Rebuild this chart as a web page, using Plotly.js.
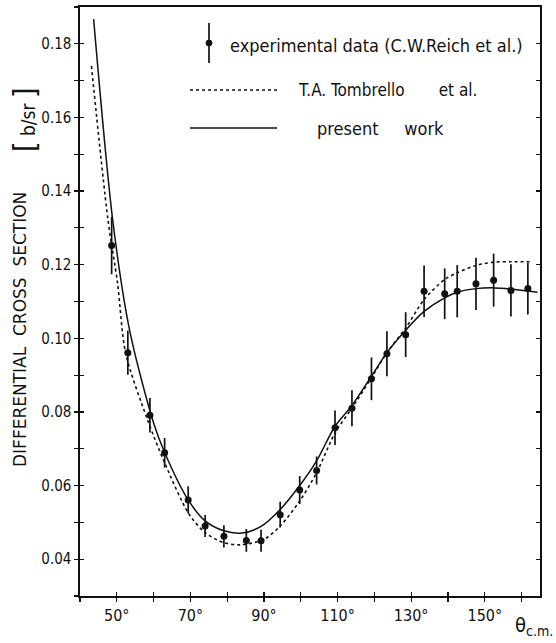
<!DOCTYPE html>
<html>
<head>
<meta charset="utf-8">
<script src="https://cdn.plot.ly/plotly-3.0.1.min.js"></script>
<style>html,body{margin:0;padding:0;background:#fff}#chart{width:556px;height:643px}</style>
</head>
<body>
<div id="chart"></div>
<script>
// Experimental data (C.W. Reich et al.)
const thetaExp = [48.6, 53.0, 59.0, 63.0, 69.4, 74.0, 79.1, 85.2, 89.2, 94.4, 99.7, 104.3, 109.3, 113.9, 119.2, 123.4, 128.5, 133.5, 139.1, 142.5, 147.6, 152.4, 157.1, 161.7];
const sigmaExp = [0.1252, 0.0961, 0.0791, 0.0689, 0.0561, 0.0490, 0.0462, 0.0451, 0.0450, 0.0521, 0.0588, 0.0641, 0.0757, 0.0810, 0.0890, 0.0958, 0.1010, 0.1128, 0.1121, 0.1128, 0.1148, 0.1158, 0.1130, 0.1135];
const errExp   = [0.0078, 0.0060, 0.0047, 0.0040, 0.0037, 0.0030, 0.0030, 0.0031, 0.0030, 0.0035, 0.0038, 0.0038, 0.0047, 0.0049, 0.0058, 0.0061, 0.0061, 0.0070, 0.0069, 0.0071, 0.0071, 0.0072, 0.0071, 0.0070];

// T.A. Tombrello et al. (dotted)
const thetaTomb = [43.1, 47.6, 50.2, 52.4, 58.3, 63.0, 69.4, 74.0, 79.1, 83.7, 90.0, 94.4, 99.7, 104.3, 109.3, 113.8, 119.2, 123.4, 128.5, 133.5, 139.1, 142.5, 147.6, 152.4, 157.1, 163.0];
const sigmaTomb = [0.174, 0.1322, 0.115, 0.096, 0.078, 0.0662, 0.0526, 0.0472, 0.0445, 0.0439, 0.0454, 0.0490, 0.0558, 0.0635, 0.0743, 0.0809, 0.0893, 0.0961, 0.1028, 0.1105, 0.1160, 0.1178, 0.1198, 0.1207, 0.1208, 0.1208];

// present work (solid)
const thetaPres = [43.7, 48.9, 53.6, 60.0, 63.0, 69.4, 74.0, 79.1, 84.0, 89.2, 94.4, 99.7, 104.3, 109.3, 113.8, 119.2, 123.4, 128.5, 133.5, 139.1, 142.5, 147.6, 152.4, 157.1, 164.3];
const sigmaPres = [0.1867, 0.132, 0.1016, 0.077, 0.069, 0.0561, 0.0504, 0.0477, 0.0471, 0.0489, 0.0535, 0.0600, 0.0667, 0.0761, 0.0816, 0.0897, 0.0961, 0.1022, 0.1073, 0.1110, 0.1125, 0.1135, 0.1137, 0.1134, 0.1125];

const xTickVals = [50, 70, 90, 110, 130, 150];
const xTickText = ['50°', '70°', '90°', '110°', '130°', '150°'];
const FONT = '"DejaVu Sans Condensed", "DejaVu Sans", sans-serif';
const FONT_WIDE = '"DejaVu Sans", sans-serif';

const traces = [
  {x: thetaTomb, y: sigmaTomb, mode: 'lines', line: {color: '#111', width: 1.6, dash: 'dot', shape: 'spline', smoothing: 0.8}, hoverinfo: 'skip'},
  {x: thetaPres, y: sigmaPres, mode: 'lines', line: {color: '#111', width: 1.5, shape: 'spline', smoothing: 0.8}, hoverinfo: 'skip'},
  {x: thetaExp, y: sigmaExp, mode: 'markers', marker: {color: '#111', size: 7},
   error_y: {type: 'data', array: errExp, visible: true, color: '#111', thickness: 1.7, width: 0}},
  {x: [null], y: [null], xaxis: 'x2', yaxis: 'y2', mode: 'markers', hoverinfo: 'skip'}
];

const px = v => (v - 80) / 460;
const py = v => (596 - v) / 589;

const layout = {
  width: 556, height: 643,
  margin: {l: 80, r: 16, t: 7, b: 47},
  paper_bgcolor: '#fff', plot_bgcolor: '#fff',
  showlegend: false,
  font: {family: FONT, color: '#111', size: 15},
  xaxis: {
    range: [40, 165], tickvals: xTickVals, ticktext: xTickText,
    ticks: 'outside', ticklen: 4, tickwidth: 1.2, tickcolor: '#111',
    minor: {tick0: 40, dtick: 10, ticks: 'outside', ticklen: 4, tickwidth: 1.2, tickcolor: '#111'},
    showline: true, linewidth: 1.6, linecolor: '#111', mirror: true,
    showgrid: false, zeroline: false, tickfont: {size: 16, family: FONT}
  },
  xaxis2: {
    overlaying: 'x', anchor: 'y2', range: [40, 165], tick0: 40, dtick: 10,
    ticks: 'inside', ticklen: 4, tickwidth: 1.2, tickcolor: '#111',
    showticklabels: false, showline: false, showgrid: false, zeroline: false
  },
  yaxis: {
    range: [0.03, 0.19], tick0: 0.04, dtick: 0.02, tickformat: '.2f',
    ticks: 'outside', ticklen: 4, tickwidth: 1.2, tickcolor: '#111',
    minor: {tick0: 0.03, dtick: 0.01, ticks: 'outside', ticklen: 4, tickwidth: 1.2, tickcolor: '#111'},
    showline: true, linewidth: 1.6, linecolor: '#111', mirror: true,
    showgrid: false, zeroline: false, tickfont: {size: 15, family: FONT}
  },
  yaxis2: {
    overlaying: 'y', anchor: 'x2', side: 'left', range: [0.03, 0.19], tick0: 0.03, dtick: 0.01,
    ticks: 'inside', ticklen: 4, tickwidth: 1.2, tickcolor: '#111', mirror: 'ticks',
    showticklabels: false, showline: false, showgrid: false, zeroline: false
  },
  shapes: [
    {type: 'line', xref: 'paper', yref: 'paper', x0: px(209), x1: px(209), y0: py(23), y1: py(63), line: {color: '#111', width: 1.7}},
    {type: 'circle', xref: 'paper', yref: 'paper', x0: px(206), x1: px(212), y0: py(40), y1: py(46), fillcolor: '#111', line: {color: '#111', width: 1}},
    {type: 'line', xref: 'paper', yref: 'paper', x0: px(190), x1: px(277), y0: py(90), y1: py(90), line: {color: '#111', width: 1.6, dash: 'dot'}},
    {type: 'line', xref: 'paper', yref: 'paper', x0: px(190), x1: px(277), y0: py(128), y1: py(128), line: {color: '#111', width: 1.5}}
  ],
  annotations: [
    {xref: 'paper', yref: 'paper', x: px(228), y: py(45), xanchor: 'left', yanchor: 'middle', showarrow: false,
     text: 'experimental data (C.W.Reich et al.)', font: {size: 18, family: FONT}},
    {xref: 'paper', yref: 'paper', x: px(296), y: py(90), xanchor: 'left', yanchor: 'middle', showarrow: false,
     text: 'T.A. Tombrello       et al.', font: {size: 17, family: FONT}},
    {xref: 'paper', yref: 'paper', x: px(315), y: py(128), xanchor: 'left', yanchor: 'middle', showarrow: false,
     text: 'present     work', font: {size: 18, family: FONT}},
    {xref: 'paper', yref: 'paper', x: px(20), y: py(330), xanchor: 'center', yanchor: 'middle', showarrow: false, textangle: -90,
     text: 'DIFFERENTIAL  CROSS  SECTION', font: {size: 17, family: FONT_WIDE}},
    {xref: 'paper', yref: 'paper', x: px(24), y: py(120), xanchor: 'center', yanchor: 'middle', showarrow: false, textangle: -90,
     text: '<span style="font-size:30px">[</span> b/sr <span style="font-size:30px">]</span>', font: {size: 19, family: FONT}},
    {xref: 'paper', yref: 'paper', x: px(555), y: py(626), xanchor: 'right', yanchor: 'middle', showarrow: false,
     text: 'θ<sub>c.m.</sub>', font: {size: 20, family: FONT}}
  ]
};

Plotly.newPlot('chart', traces, layout, {staticPlot: true, displayModeBar: false});
</script>
</body>
</html>
